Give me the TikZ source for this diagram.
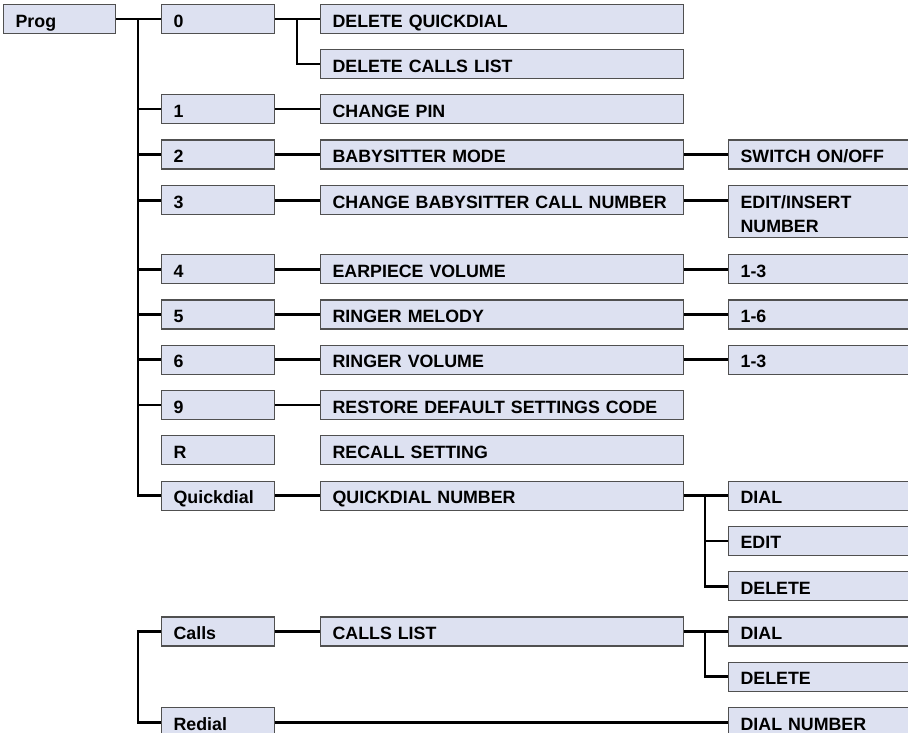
\documentclass[tikz,border=0pt]{standalone}
\usepackage{fontspec}
\setmainfont{Liberation Sans}
\definecolor{boxfill}{RGB}{221,225,241}
\definecolor{boxline}{RGB}{80,80,80}
\tikzset{
  box/.style={draw=boxline, fill=boxfill, line width=1.2pt, anchor=north west,
    inner xsep=12pt, inner ysep=0pt, align=left, text height=16pt, text depth=0pt,
    minimum height=29pt, font=\bfseries\fontsize{17.8}{24}\selectfont},
  cz/.style={box, text width=88pt},
  ca/.style={box, text width=89pt},
  cb/.style={box, text width=339pt},
  cc/.style={box, text width=176pt},
  conn/.style={line width=2.8pt, black},
}
\begin{document}
\begin{tikzpicture}[x=1pt, y=-1pt]
\useasboundingbox (0,0) rectangle (908,733);
\clip (0,0) rectangle (908,733);
% boxes
\node[cz] (prog) at (3,4) {Prog};
\node[ca] (n0) at (161,4) {0};
\node[cb] (dq) at (320,4) {DELETE QUICKDIAL};
\node[cb] (dcl) at (320,49) {DELETE CALLS LIST};
\node[ca] (n1) at (161,94) {1};
\node[cb] (cp) at (320,94) {CHANGE PIN};
\node[ca] (n2) at (161,139.5) {2};
\node[cb] (bm) at (320,139.5) {BABYSITTER MODE};
\node[cc] (sw) at (728,139.5) {SWITCH ON/OFF};
\node[ca] (n3) at (161,185) {3};
\node[cb] (cbn) at (320,185) {CHANGE BABYSITTER CALL NUMBER};
\node[cc, minimum height=52pt, text height=18pt, text depth=24pt] (ei) at (728,185) {EDIT/INSERT\\NUMBER};
\node[ca] (n4) at (161,254) {4};
\node[cb] (ev) at (320,254) {EARPIECE VOLUME};
\node[cc] (va) at (728,254) {1-3};
\node[ca] (n5) at (161,299.3) {5};
\node[cb] (rm) at (320,299.3) {RINGER MELODY};
\node[cc] (vb) at (728,299.3) {1-6};
\node[ca] (n6) at (161,344.6) {6};
\node[cb] (rv) at (320,344.6) {RINGER VOLUME};
\node[cc] (vc) at (728,344.6) {1-3};
\node[ca] (n9) at (161,389.9) {9};
\node[cb] (rd) at (320,389.9) {RESTORE DEFAULT SETTINGS CODE};
\node[ca] (nr) at (161,435.2) {R};
\node[cb] (rs) at (320,435.2) {RECALL SETTING};
\node[ca] (nq) at (161,480.5) {Quickdial};
\node[cb] (qn) at (320,480.5) {QUICKDIAL NUMBER};
\node[cc] (qdial) at (728,480.5) {DIAL};
\node[cc] (qedit) at (728,525.8) {EDIT};
\node[cc] (qdel) at (728,571.1) {DELETE};
\node[ca] (nc) at (161,616.4) {Calls};
\node[cb] (cl) at (320,616.4) {CALLS LIST};
\node[cc] (cdial) at (728,616.4) {DIAL};
\node[cc] (cdel) at (728,661.7) {DELETE};
\node[ca] (nrd) at (161,707) {Redial};
\node[cc] (dn) at (728,707) {DIAL NUMBER};
% branch x positions
\coordinate (tx) at (138,0);
\coordinate (bx0) at (297,0);
\coordinate (bxq) at (705,0);
% connectors
\draw[conn] (prog.east) -- (n0.west);
\draw[conn] (tx |- n0.west) -- (tx |- nq.west) -- (nq.west);
\foreach \n in {n1,n2,n3,n4,n5,n6,n9} {\draw[conn] (tx |- \n.west) -- (\n.west);}
\draw[conn] (n0.east) -- (dq.west);
\draw[conn] (bx0 |- dq.west) -- (bx0 |- dcl.west) -- (dcl.west);
\draw[conn] (n1.east) -- (cp.west);
\draw[conn] (n2.east) -- (bm.west);
\draw[conn] (n3.east) -- (cbn.west);
\draw[conn] (n4.east) -- (ev.west);
\draw[conn] (n5.east) -- (rm.west);
\draw[conn] (n6.east) -- (rv.west);
\draw[conn] (n9.east) -- (rd.west);
\draw[conn] (nq.east) -- (qn.west);
\draw[conn] (bm.east) -- (sw.west);
\draw[conn] (cbn.east) -- (ei.west |- cbn.east);
\draw[conn] (ev.east) -- (va.west);
\draw[conn] (rm.east) -- (vb.west);
\draw[conn] (rv.east) -- (vc.west);
\draw[conn] (qn.east) -- (qdial.west);
\draw[conn] (bxq |- qdial.west) -- (bxq |- qdel.west) -- (qdel.west);
\draw[conn] (bxq |- qedit.west) -- (qedit.west);
\draw[conn] (nc.west) -- (tx |- nc.west) -- (tx |- nrd.west) -- (nrd.west);
\draw[conn] (nc.east) -- (cl.west);
\draw[conn] (cl.east) -- (cdial.west);
\draw[conn] (bxq |- cdial.west) -- (bxq |- cdel.west) -- (cdel.west);
\draw[conn] (nrd.east) -- (dn.west);
\end{tikzpicture}
\end{document}
